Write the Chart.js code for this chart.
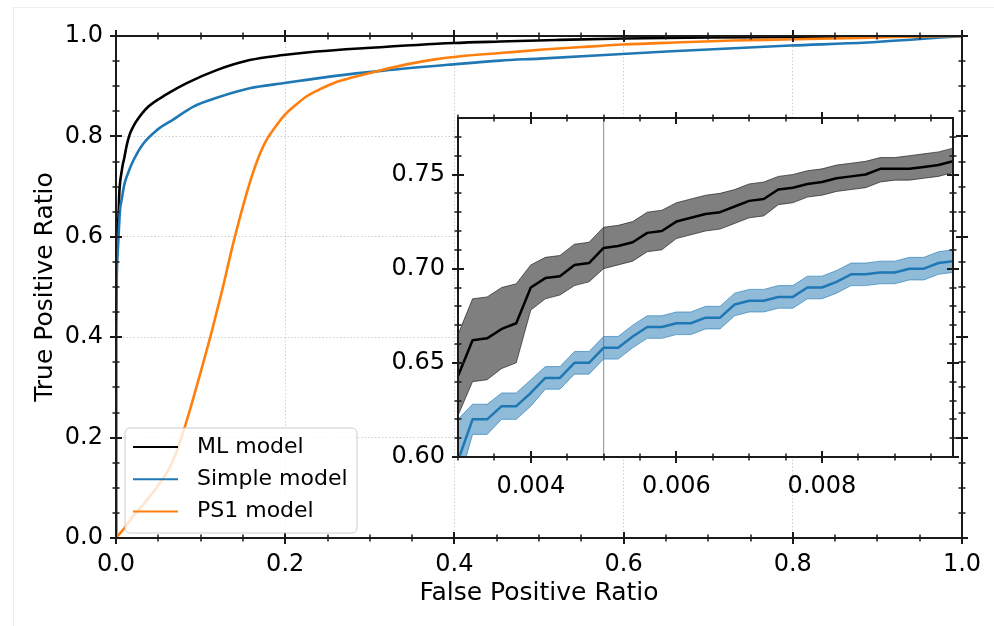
<!DOCTYPE html>
<html>
<head>
<meta charset="utf-8">
<script src="https://cdn.jsdelivr.net/npm/chart.js@4.4.1/dist/chart.umd.min.js"></script>
<style>
  html, body { margin: 0; padding: 0; background: #fff; }
  #wrap { position: relative; width: 994px; height: 626px; overflow: hidden; }
  #main-chart, #inset-chart { position: absolute; left: 0; top: 0; }
  #edge { position: absolute; left: 13px; top: 7px; right: 0; bottom: 0; border-left: 1px solid #ececec; border-top: 1px solid #ececec; }
</style>
</head>
<body>
<div id="wrap">
  <div id="edge"></div>
  <canvas id="main-chart" width="994" height="626"></canvas>
  <canvas id="inset-chart" width="994" height="626"></canvas>
</div>
<script>
// ---- data: main ROC curves ----
const seriesNames = ["ML model", "Simple model", "PS1 model"];

const mlFpr = [0, 0, 0.0005, 0.001, 0.002, 0.003, 0.004, 0.005, 0.0065, 0.008, 0.0098, 0.0125, 0.016, 0.0205, 0.0265, 0.038, 0.060, 0.0836, 0.119, 0.158, 0.198, 0.237, 0.296, 0.399, 0.454, 0.52, 0.6, 0.7, 0.8, 0.9, 1.0];
const mlTpr = [0, 0.42, 0.52, 0.57, 0.61, 0.643, 0.690, 0.711, 0.728, 0.744, 0.757, 0.781, 0.803, 0.820, 0.836, 0.859, 0.884, 0.906, 0.932, 0.952, 0.962, 0.969, 0.976, 0.986, 0.989, 0.992, 0.995, 0.997, 0.998, 0.999, 1.0];

const simpleFpr = [0, 0, 0.0005, 0.001, 0.002, 0.003, 0.004, 0.005, 0.0067, 0.0098, 0.0145, 0.0205, 0.032, 0.048, 0.068, 0.091, 0.119, 0.158, 0.198, 0.257, 0.316, 0.395, 0.454, 0.501, 0.651, 0.797, 0.888, 1.0];
const simpleTpr = [0, 0.40, 0.48, 0.53, 0.57, 0.60, 0.634, 0.658, 0.674, 0.704, 0.728, 0.752, 0.785, 0.812, 0.834, 0.859, 0.877, 0.896, 0.906, 0.920, 0.931, 0.943, 0.951, 0.955, 0.969, 0.981, 0.987, 1.0];

const ps1Fpr = [0, 0.010, 0.020, 0.030, 0.040, 0.050, 0.060, 0.070, 0.080, 0.090, 0.100, 0.113, 0.125, 0.139, 0.158, 0.170, 0.178, 0.188, 0.198, 0.212, 0.2255, 0.240, 0.257, 0.285, 0.316, 0.345, 0.375, 0.41, 0.454, 0.505, 0.55, 0.600, 0.66, 0.730, 0.79, 0.848, 0.92, 1.0];
const ps1Tpr = [0, 0.020, 0.043, 0.062, 0.083, 0.105, 0.130, 0.165, 0.214, 0.270, 0.330, 0.410, 0.490, 0.590, 0.707, 0.765, 0.793, 0.818, 0.840, 0.862, 0.880, 0.893, 0.906, 0.920, 0.933, 0.944, 0.953, 0.960, 0.966, 0.973, 0.978, 0.983, 0.987, 0.991, 0.993, 0.995, 0.998, 1.0];

// ---- data: inset (zoom on low FPR) ----
const insetFpr = [0.0030, 0.0032, 0.0034, 0.0036, 0.0038, 0.0040, 0.0042, 0.0044, 0.0046, 0.0048, 0.0050, 0.0052, 0.0054, 0.0056, 0.0058, 0.0060, 0.0062, 0.0064, 0.0066, 0.0068, 0.0070, 0.0072, 0.0074, 0.0076, 0.0078, 0.0080, 0.0082, 0.0084, 0.0086, 0.0088, 0.0090, 0.0092, 0.0094, 0.0096, 0.0098];
const mlInset = [0.643, 0.662, 0.663, 0.668, 0.671, 0.690, 0.695, 0.696, 0.702, 0.703, 0.711, 0.712, 0.714, 0.719, 0.720, 0.725, 0.727, 0.729, 0.730, 0.733, 0.736, 0.737, 0.742, 0.743, 0.745, 0.746, 0.748, 0.749, 0.750, 0.753, 0.753, 0.753, 0.754, 0.755, 0.757];
const mlUpper = [0.665, 0.684, 0.685, 0.690, 0.692, 0.702, 0.706, 0.707, 0.713, 0.714, 0.722, 0.723, 0.725, 0.730, 0.731, 0.735, 0.737, 0.739, 0.740, 0.742, 0.745, 0.746, 0.749, 0.750, 0.752, 0.753, 0.755, 0.756, 0.757, 0.759, 0.759, 0.760, 0.761, 0.762, 0.764];
const mlLower = [0.622, 0.640, 0.641, 0.647, 0.650, 0.678, 0.684, 0.686, 0.691, 0.693, 0.700, 0.702, 0.704, 0.709, 0.710, 0.716, 0.718, 0.720, 0.721, 0.724, 0.727, 0.728, 0.734, 0.735, 0.738, 0.739, 0.741, 0.742, 0.743, 0.746, 0.747, 0.747, 0.748, 0.749, 0.751];
const simpleInset = [0.598, 0.620, 0.620, 0.627, 0.627, 0.634, 0.642, 0.642, 0.650, 0.650, 0.658, 0.658, 0.664, 0.669, 0.669, 0.671, 0.671, 0.674, 0.674, 0.681, 0.683, 0.683, 0.685, 0.685, 0.690, 0.690, 0.693, 0.697, 0.697, 0.698, 0.698, 0.700, 0.700, 0.703, 0.704];
const simpleUpper = [0.620, 0.628, 0.628, 0.634, 0.634, 0.641, 0.648, 0.648, 0.656, 0.656, 0.664, 0.664, 0.670, 0.675, 0.675, 0.677, 0.677, 0.680, 0.680, 0.687, 0.689, 0.689, 0.691, 0.691, 0.696, 0.696, 0.699, 0.703, 0.703, 0.704, 0.704, 0.706, 0.706, 0.709, 0.710];
const simpleLower = [0.585, 0.612, 0.612, 0.620, 0.620, 0.627, 0.636, 0.636, 0.644, 0.644, 0.652, 0.652, 0.658, 0.663, 0.663, 0.665, 0.665, 0.668, 0.668, 0.675, 0.677, 0.677, 0.679, 0.679, 0.684, 0.684, 0.687, 0.691, 0.691, 0.692, 0.692, 0.694, 0.694, 0.697, 0.698];
const cutFpr = 0.005;

// ---- ticks ----
const mainTickValues = [0, 0.2, 0.4, 0.6, 0.8, 1.0];
const mainTickLabels = ["0.0", "0.2", "0.4", "0.6", "0.8", "1.0"];
const mainMinor = [0.05, 0.1, 0.15, 0.25, 0.3, 0.35, 0.45, 0.5, 0.55, 0.65, 0.7, 0.75, 0.85, 0.9, 0.95];
const insetXTicks = [0.004, 0.006, 0.008];
const insetXLabels = ["0.004", "0.006", "0.008"];
const insetXMinor = [0.003, 0.0035, 0.0045, 0.005, 0.0055, 0.0065, 0.007, 0.0075, 0.0085, 0.009, 0.0095];
const insetYTicks = [0.60, 0.65, 0.70, 0.75];
const insetYLabels = ["0.60", "0.65", "0.70", "0.75"];
const insetYMinor = [0.61, 0.62, 0.63, 0.64, 0.66, 0.67, 0.68, 0.69, 0.71, 0.72, 0.73, 0.74, 0.76, 0.77];

const FONT = "DejaVu Sans";
const BLUE = "#1f77b4";
const ORANGE = "#ff7f0e";

function toPoints(xs, ys) {
  return xs.map((x, i) => ({ x: x, y: ys[i] }));
}

// frame + ticks crossing the axes (major and minor) on all four sides
const frameTicks = {
  id: "frameTicks",
  afterDatasetsDraw(chart, args, opts) {
    const { ctx, chartArea: a } = chart;
    const x = chart.scales.x;
    const y = chart.scales.y;
    ctx.save();
    ctx.strokeStyle = "#1a1a1a";
    const drawX = (vals, len, w) => {
      ctx.lineWidth = w;
      ctx.beginPath();
      vals.forEach((v) => {
        const p = Math.round(x.getPixelForValue(v));
        if (p < a.left - 1 || p > a.right + 1) return;
        ctx.moveTo(p, a.bottom - len / 2); ctx.lineTo(p, a.bottom + len / 2);
        ctx.moveTo(p, a.top - len / 2); ctx.lineTo(p, a.top + len / 2);
      });
      ctx.stroke();
    };
    const drawY = (vals, len, w) => {
      ctx.lineWidth = w;
      ctx.beginPath();
      vals.forEach((v) => {
        const p = Math.round(y.getPixelForValue(v));
        if (p < a.top - 1 || p > a.bottom + 1) return;
        ctx.moveTo(a.left - len / 2, p); ctx.lineTo(a.left + len / 2, p);
        ctx.moveTo(a.right - len / 2, p); ctx.lineTo(a.right + len / 2, p);
      });
      ctx.stroke();
    };
    drawX(opts.xMinor, 7, 1.5);
    drawY(opts.yMinor, 7, 1.5);
    drawX(opts.xMajor, 12, 2);
    drawY(opts.yMajor, 12, 2);
    ctx.lineWidth = 2;
    ctx.strokeRect(a.left, a.top, a.right - a.left, a.bottom - a.top);
    ctx.restore();
  }
};

// legend box in the lower-left corner of the main plot
const cornerLegend = {
  id: "cornerLegend",
  afterDraw(chart, args, opts) {
    const ctx = chart.ctx;
    ctx.save();
    ctx.beginPath();
    ctx.roundRect(opts.left, opts.top, opts.width, opts.height, 5);
    ctx.fillStyle = "rgba(255,255,255,0.8)";
    ctx.fill();
    ctx.strokeStyle = "#cccccc";
    ctx.lineWidth = 1;
    ctx.stroke();
    ctx.font = "22px '" + FONT + "'";
    ctx.textBaseline = "middle";
    chart.data.datasets.forEach((ds, i) => {
      const ry = opts.top + opts.firstRow + i * opts.rowGap;
      ctx.strokeStyle = ds.borderColor;
      ctx.lineWidth = 2;
      ctx.beginPath();
      ctx.moveTo(opts.left + 8, ry);
      ctx.lineTo(opts.left + 53, ry);
      ctx.stroke();
      ctx.fillStyle = "#000";
      ctx.fillText(ds.label, opts.left + 72, ry);
    });
    ctx.restore();
  }
};

// white background for the inset plot area
const whiteArea = {
  id: "whiteArea",
  beforeDraw(chart) {
    const { ctx, chartArea: a } = chart;
    ctx.save();
    ctx.fillStyle = "#fff";
    ctx.fillRect(a.left, a.top, a.right - a.left, a.bottom - a.top);
    ctx.restore();
  }
};

const tickFont = { family: FONT, size: 24 };
const titleFont = { family: FONT, size: 25 };

// main chart
const mainChart = new Chart(document.querySelector("#main-chart"), {
  type: "line",
  data: {
    datasets: [
      { label: seriesNames[0], data: toPoints(mlFpr, mlTpr), borderColor: "#000000", borderWidth: 2.6, order: 2 },
      { label: seriesNames[1], data: toPoints(simpleFpr, simpleTpr), borderColor: BLUE, borderWidth: 2.6, order: 1 },
      { label: seriesNames[2], data: toPoints(ps1Fpr, ps1Tpr), borderColor: ORANGE, borderWidth: 2.6, order: 0 },
    ],
  },
  options: {
    responsive: false,
    animation: false,
    devicePixelRatio: 1,
    layout: { padding: { left: 0, top: 36, right: 32, bottom: 0 } },
    elements: { point: { radius: 0 }, line: { cubicInterpolationMode: "monotone", borderJoinStyle: "round" } },
    plugins: {
      legend: { display: false },
      tooltip: { enabled: false },
      frameTicks: { xMajor: mainTickValues, xMinor: mainMinor, yMajor: mainTickValues, yMinor: mainMinor },
      cornerLegend: { left: 125, top: 428, width: 232, height: 105, firstRow: 19, rowGap: 32.2 },
    },
    scales: {
      x: {
        type: "linear",
        min: 0,
        max: 1,
        afterFit(s) { s.height = 88; },
        afterBuildTicks(s) { s.ticks = mainTickValues.map((v) => ({ value: v })); },
        ticks: { callback: (v, i) => mainTickLabels[i], font: tickFont, color: "#000", padding: 12, maxRotation: 0, autoSkip: false },
        grid: { color: "#cfcfcf", lineWidth: 1, drawTicks: false },
        border: { display: false, dash: [1.5, 2] },
        title: { display: true, text: "False Positive Ratio", font: titleFont, color: "#000", padding: { top: 0, bottom: 18 } },
      },
      y: {
        type: "linear",
        min: 0,
        max: 1,
        afterFit(s) { s.width = 116; },
        afterBuildTicks(s) { s.ticks = mainTickValues.map((v) => ({ value: v })); },
        ticks: { callback: (v, i) => mainTickLabels[i], font: tickFont, color: "#000", padding: 13, autoSkip: false },
        grid: { color: "#cfcfcf", lineWidth: 1, drawTicks: false },
        border: { display: false, dash: [1.5, 2] },
        title: { display: true, text: "True Positive Ratio", font: titleFont, color: "#000", padding: { top: 30, bottom: 0 } },
      },
    },
  },
  plugins: [frameTicks, cornerLegend],
});

// inset chart
const insetChart = new Chart(document.querySelector("#inset-chart"), {
  type: "line",
  data: {
    datasets: [
      { label: "ML", data: toPoints(insetFpr, mlInset), borderColor: "#000000", borderWidth: 2.5, order: 0 },
      { label: "Simple", data: toPoints(insetFpr, simpleInset), borderColor: BLUE, borderWidth: 2.5, order: 1 },
      { label: "ML upper", data: toPoints(insetFpr, mlUpper), borderColor: "rgba(0,0,0,0.55)", borderWidth: 1, order: 4 },
      { label: "ML lower", data: toPoints(insetFpr, mlLower), borderColor: "rgba(0,0,0,0.55)", borderWidth: 1, fill: 2, backgroundColor: "rgba(0,0,0,0.5)", order: 5 },
      { label: "Simple upper", data: toPoints(insetFpr, simpleUpper), borderColor: "rgba(31,119,180,0.6)", borderWidth: 1, order: 4 },
      { label: "Simple lower", data: toPoints(insetFpr, simpleLower), borderColor: "rgba(31,119,180,0.6)", borderWidth: 1, fill: 4, backgroundColor: "rgba(31,119,180,0.5)", order: 5 },
      { label: "cut", data: [{ x: cutFpr, y: 0.60 }, { x: cutFpr, y: 0.78 }], borderColor: "#a0a0a0", borderWidth: 1.2, order: 9 },
    ],
  },
  options: {
    responsive: false,
    animation: false,
    devicePixelRatio: 1,
    layout: { padding: { left: 0, top: 118, right: 41, bottom: 129 } },
    elements: { point: { radius: 0 }, line: { tension: 0, borderJoinStyle: "round" } },
    plugins: {
      legend: { display: false },
      tooltip: { enabled: false },
      frameTicks: { xMajor: insetXTicks, xMinor: insetXMinor, yMajor: insetYTicks, yMinor: insetYMinor },
    },
    scales: {
      x: {
        type: "linear",
        min: 0.003,
        max: 0.0098,
        afterFit(s) { s.height = 40; },
        afterBuildTicks(s) { s.ticks = insetXTicks.map((v) => ({ value: v })); },
        ticks: { callback: (v, i) => insetXLabels[i], font: tickFont, color: "#000", padding: 15, maxRotation: 0, autoSkip: false },
        grid: { display: false, drawTicks: false },
        border: { display: false },
      },
      y: {
        type: "linear",
        min: 0.60,
        max: 0.78,
        afterFit(s) { s.width = 458; },
        afterBuildTicks(s) { s.ticks = insetYTicks.map((v) => ({ value: v })); },
        ticks: { callback: (v, i) => insetYLabels[i], font: tickFont, color: "#000", padding: 13, autoSkip: false },
        grid: { display: false, drawTicks: false },
        border: { display: false },
      },
    },
  },
  plugins: [whiteArea, frameTicks],
});
</script>
</body>
</html>
